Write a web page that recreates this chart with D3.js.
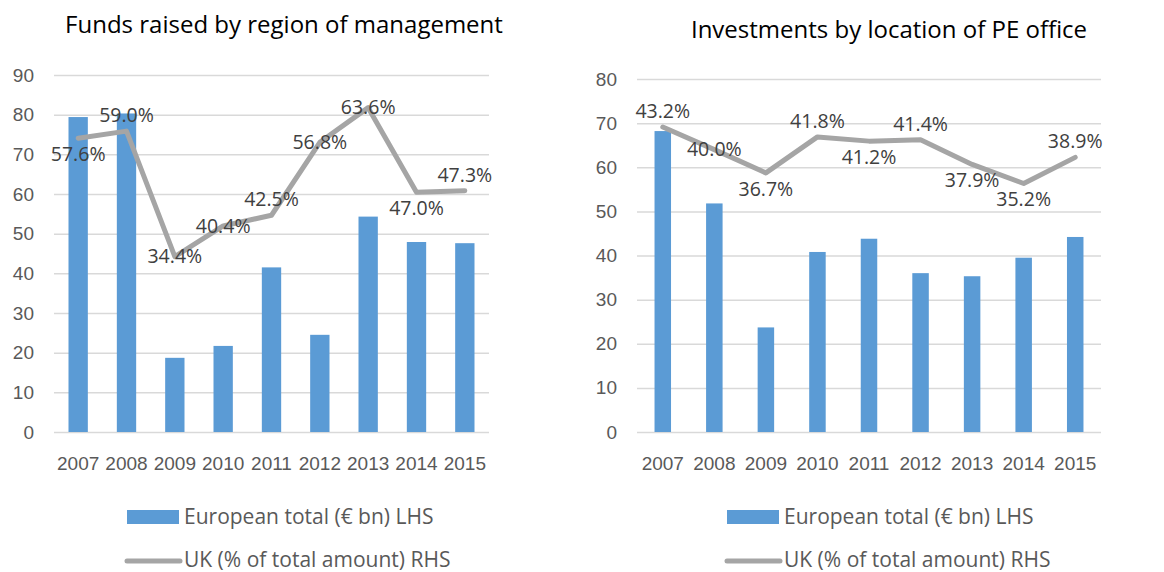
<!DOCTYPE html>
<html>
<head>
<meta charset="utf-8">
<script src="https://cdn.jsdelivr.net/npm/d3@7"></script>
<style>
  body { margin: 0; background: #fff; }
  svg { font-family: "Open Sans", sans-serif; }
  .grid line { stroke: #d9d9d9; stroke-width: 1.5; }
  .tick text { fill: #595959; }
</style>
</head>
<body>
<div id="chart"></div>
<script>
// data
var years = ["2007", "2008", "2009", "2010", "2011", "2012", "2013", "2014", "2015"];

var fundsTotal = [79.4, 80.3, 18.7, 21.7, 41.5, 24.5, 54.3, 47.9, 47.6];
var fundsUK = [57.6, 59.0, 34.4, 40.4, 42.5, 56.8, 63.6, 47.0, 47.3];
var fundsLabelPlace = ["below", "above", "center", "center", "above", "center", "center", "below", "above"];

var invTotal = [68.2, 51.8, 23.7, 40.8, 43.8, 36.0, 35.3, 39.5, 44.2];
var invUK = [43.2, 40.0, 36.7, 41.8, 41.2, 41.4, 37.9, 35.2, 38.9];
var invLabelPlace = ["above", "center", "below", "above", "below", "above", "below", "below", "above"];

var fundsTicks = d3.range(0, 91, 10);
var invTicks = d3.range(0, 81, 10);

var legendBar = "European total (€ bn) LHS";
var legendLine = "UK (% of total amount) RHS";

var BAR_COLOR = "#5b9bd5", LINE_COLOR = "#a5a5a5";

var svg = d3.select("#chart").append("svg")
  .attr("width", 1164).attr("height", 572);

function drawPanel(o) {
  var g = svg.append("g");

  var x = d3.scaleBand().domain(years).range([o.left, o.right]).paddingInner(o.pad).paddingOuter(o.pad / 2);
  var xc = d3.scalePoint().domain(years).range([o.left, o.right]).padding(0.5);
  var y = d3.scaleLinear().domain([0, d3.max(o.ticks)]).range([o.bottom, o.top]);
  var y2 = d3.scaleLinear().domain(o.rhs).range([o.bottom, o.top]);

  // title
  g.append("text")
    .attr("x", o.titleX).attr("y", o.titleY)
    .attr("text-anchor", "middle")
    .style("font-size", "24px").style("fill", "#000")
    .text(o.title);

  // gridlines + y labels
  var yAxis = g.append("g")
    .attr("class", "grid")
    .attr("transform", "translate(" + o.left + ",0)")
    .call(d3.axisLeft(y).tickValues(o.ticks).tickSize(-(o.right - o.left)).tickPadding(20).tickFormat(d3.format("d")));
  yAxis.select(".domain").remove();
  yAxis.selectAll("text").style("font-size", "19px");

  // x labels
  var xAxis = g.append("g")
    .attr("transform", "translate(0," + o.bottom + ")")
    .call(d3.axisBottom(x).tickSize(0).tickPadding(31));
  xAxis.select(".domain").remove();
  xAxis.selectAll("text").style("font-size", "19px").attr("dy", "0.35em");

  // bars
  g.selectAll(".bar")
    .data(o.total)
    .enter().append("rect")
    .attr("class", "bar")
    .attr("x", function(d, i) { return x(years[i]); })
    .attr("width", x.bandwidth())
    .attr("y", function(d) { return y(d); })
    .attr("height", function(d) { return y(0) - y(d); })
    .style("fill", BAR_COLOR);

  // line
  var line = d3.line()
    .x(function(d, i) { return xc(years[i]); })
    .y(function(d) { return y2(d); });

  g.append("path")
    .datum(o.uk)
    .attr("d", line)
    .style("fill", "none")
    .style("stroke", LINE_COLOR)
    .style("stroke-width", 5)
    .style("stroke-linejoin", "round")
    .style("stroke-linecap", "round");

  var dy = { above: -16, below: 16, center: 0 };
  g.selectAll(".lbl")
    .data(o.uk)
    .enter().append("text")
    .attr("class", "lbl")
    .attr("x", function(d, i) { return xc(years[i]); })
    .attr("y", function(d, i) { return y2(d) + dy[o.place[i]]; })
    .attr("dy", "0.35em")
    .attr("text-anchor", "middle")
    .style("font-size", "19.5px").style("fill", "#404040")
    .text(function(d) { return d.toFixed(1) + "%"; });

  // legend
  var lg = g.append("g").attr("transform", "translate(" + o.legendX + ",0)");
  lg.append("rect")
    .attr("x", 0).attr("y", 510).attr("width", 52).attr("height", 14)
    .style("fill", BAR_COLOR);
  lg.append("text")
    .attr("x", 57).attr("y", 517).attr("dy", "0.35em")
    .style("font-size", "21px").style("fill", "#595959")
    .text(legendBar);
  lg.append("line")
    .attr("x1", 0).attr("x2", 53).attr("y1", 561).attr("y2", 561)
    .style("stroke", LINE_COLOR).style("stroke-width", 5).style("stroke-linecap", "round");
  lg.append("text")
    .attr("x", 57).attr("y", 560).attr("dy", "0.35em")
    .style("font-size", "21px").style("fill", "#595959")
    .text(legendLine);
}

drawPanel({
  title: "Funds raised by region of management", titleX: 284, titleY: 33,
  left: 54, right: 489, top: 75, bottom: 432, pad: 0.6,
  ticks: fundsTicks, rhs: [0, 70],
  total: fundsTotal, uk: fundsUK, place: fundsLabelPlace,
  legendX: 127
});

drawPanel({
  title: "Investments by location of PE office", titleX: 889, titleY: 38,
  left: 637, right: 1101, top: 79, bottom: 432, pad: 0.68,
  ticks: invTicks, rhs: [0, 50],
  total: invTotal, uk: invUK, place: invLabelPlace,
  legendX: 727
});
</script>
</body>
</html>
